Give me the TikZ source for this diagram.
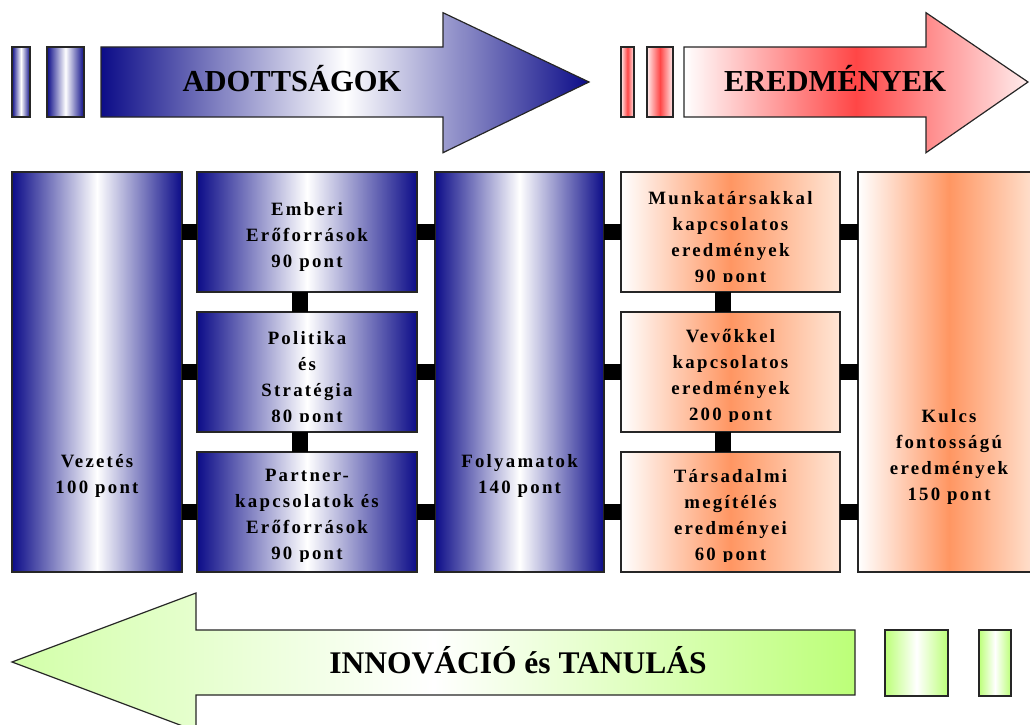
\documentclass[tikz,border=0pt]{standalone}
\usepackage{fontspec}
\setmainfont{Liberation Serif}
\newfontfamily\boxfont[LetterSpace=12]{Liberation Serif}
\definecolor{navy}{RGB}{12,12,136}
\definecolor{peach}{RGB}{255,150,98}
\definecolor{peachend}{RGB}{255,230,214}
\definecolor{rosered}{RGB}{255,70,70}
\definecolor{roseend}{RGB}{255,236,236}
\definecolor{lime}{RGB}{188,255,120}
\definecolor{limetip}{RGB}{210,255,168}
\begin{document}
\begin{tikzpicture}[x=1pt,y=-1pt,
	frame/.style={draw=black!85,line width=1.2pt},
	bluefill/.style={left color=navy,right color=navy,middle color=white},
	redfill/.style={left color=white,right color=roseend,middle color=rosered},
	limefill/.style={left color=limetip,right color=lime,middle color=white},
	bluebox/.style={frame,bluefill,inner sep=0,outer sep=0},
	peachbox/.style={frame,left color=white,right color=peachend,middle color=peach,inner sep=0,outer sep=0},
	link/.style={line width=16pt},
	boxlabel/.style={align=center,inner sep=0,font=\boxfont\bfseries\fontsize{18.8}{26}\selectfont},
	arrowlabel/.style={anchor=base,inner sep=0,font=\bfseries\fontsize{30.5}{36}\selectfont}]
	\useasboundingbox (0,0) rectangle (1030,725);
	\clip (0,0) rectangle (1030,725);
	\draw [frame,bluefill] (12,47) rectangle (30,117);
	\draw [frame,bluefill] (47,47) rectangle (84,117);
	\draw [frame,bluefill] (101,47) -- (443,47) -- (443,12.7) -- (589,82) -- (443,152.7) -- (443,117) -- (101,117) -- cycle;
	\node[arrowlabel] (adott) at (292,92) {ADOTTSÁGOK};
	\draw [frame,left color=roseend,right color=roseend,middle color=rosered] (621,47) rectangle (634,117);
	\draw [frame,left color=roseend,right color=roseend,middle color=rosered] (647,47) rectangle (673,117);
	\draw [frame,redfill] (684,47) -- (926,47) -- (926,12.7) -- (1028,82) -- (926,152.7) -- (926,117) -- (684,117) -- cycle;
	\node[arrowlabel] (ered) at (835,91) {EREDMÉNYEK};
	\node[bluebox,minimum width=170,minimum height=400] (vez) at (97,372) {};
	\node[bluebox,minimum width=220,minimum height=120] (emb) at (307,232) {};
	\node[bluebox,minimum width=220,minimum height=120] (pol) at (307,372) {};
	\node[bluebox,minimum width=220,minimum height=120] (par) at (307,512) {};
	\node[bluebox,minimum width=169,minimum height=400] (fol) at (519.5,372) {};
	\node[peachbox,minimum width=219,minimum height=120] (munk) at (730.5,232) {};
	\node[peachbox,minimum width=219,minimum height=120] (vev) at (730.5,372) {};
	\node[peachbox,minimum width=219,minimum height=120] (tars) at (730.5,512) {};
	\node[peachbox,minimum width=182,minimum height=400] (kulcs) at (949,372) {};
	\draw [link] (vez.east |- emb.west) -- (emb.west);
	\draw [link] (vez.east |- pol.west) -- (pol.west);
	\draw [link] (vez.east |- par.west) -- (par.west);
	\draw [link] (emb.east) -- (fol.west |- emb.east);
	\draw [link] (pol.east) -- (fol.west |- pol.east);
	\draw [link] (par.east) -- (fol.west |- par.east);
	\draw [link] (fol.east |- munk.west) -- (munk.west);
	\draw [link] (fol.east |- vev.west) -- (vev.west);
	\draw [link] (fol.east |- tars.west) -- (tars.west);
	\draw [link] (munk.east) -- (kulcs.west |- munk.east);
	\draw [link] (vev.east) -- (kulcs.west |- vev.east);
	\draw [link] (tars.east) -- (kulcs.west |- tars.east);
	\draw [link] ([xshift=-7pt]emb.south) -- ([xshift=-7pt]pol.north);
	\draw [link] ([xshift=-7pt]pol.south) -- ([xshift=-7pt]par.north);
	\draw [link] ([xshift=-8pt]munk.south) -- ([xshift=-8pt]vev.north);
	\draw [link] ([xshift=-8pt]vev.south) -- ([xshift=-8pt]tars.north);
	\node[boxlabel] (vez-label) at (97,475.5) {Vezetés\\100 pont};
	\node[boxlabel] (emb-label) at (307,236.5) {Emberi\\Erőforrások\\90 pont};
	\begin{scope}
		\clip (pol.north west) rectangle ([yshift=10.5pt]pol.south east);
		\node[boxlabel] (pol-label) at (307,378.5) {Politika\\és\\Stratégia\\80 pont};
	\end{scope}
	\begin{scope}
		\clip (par.north west) rectangle ([yshift=10.5pt]par.south east);
		\node[boxlabel] (par-label) at (307,516) {Partner-\\kapcsolatok és\\Erőforrások\\90 pont};
	\end{scope}
	\node[boxlabel] (fol-label) at (519.5,476) {Folyamatok\\140 pont};
	\begin{scope}
		\clip (munk.north west) rectangle ([yshift=10.5pt]munk.south east);
		\node[boxlabel] (munk-label) at (730.5,238.5) {Munkatársakkal\\kapcsolatos\\eredmények\\90 pont};
	\end{scope}
	\begin{scope}
		\clip (vev.north west) rectangle ([yshift=10.5pt]vev.south east);
		\node[boxlabel] (vev-label) at (730.5,376.5) {Vevőkkel\\kapcsolatos\\eredmények\\200 pont};
	\end{scope}
	\begin{scope}
		\clip (tars.north west) rectangle ([yshift=10.5pt]tars.south east);
		\node[boxlabel] (tars-label) at (730.5,516.5) {Társadalmi\\megítélés\\eredményei\\60 pont};
	\end{scope}
	\node[boxlabel] (kulcs-label) at (949,457) {Kulcs\\fontosságú\\eredmények\\150 pont};
	\draw [frame,limefill] (855,630) -- (196,630) -- (196,593) -- (12,662) -- (196,731) -- (196,695) -- (855,695) -- cycle;
	\node[arrowlabel,font=\bfseries\fontsize{31.5}{36}\selectfont] (innov) at (518,673) {INNOVÁCIÓ és TANULÁS};
	\draw [frame,left color=lime,right color=lime,middle color=white] (885,630) rectangle (948,696);
	\draw [frame,left color=lime,right color=lime,middle color=white] (979,630) rectangle (1011,696);
\end{tikzpicture}
\end{document}
